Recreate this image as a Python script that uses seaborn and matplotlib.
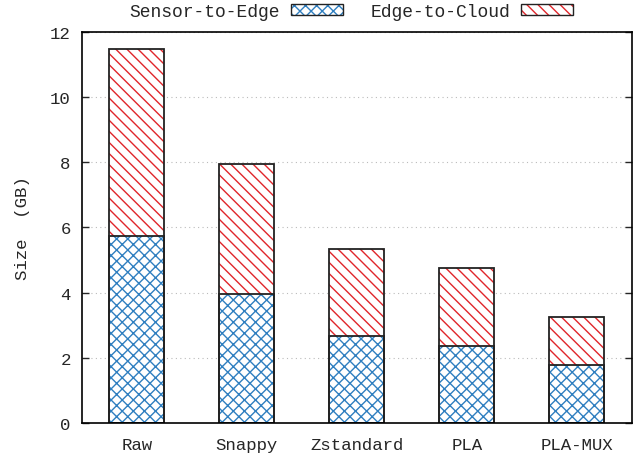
import matplotlib
matplotlib.use("Agg")
import matplotlib.pyplot as plt
import matplotlib.patches as mpatches
from matplotlib.legend_handler import HandlerTuple
import seaborn as sns
import pandas as pd

methods = ["Raw", "Snappy", "Zstandard", "PLA", "PLA-MUX"]
sensor_to_edge = [5.74, 3.96, 2.67, 2.37, 1.78]
edge_to_cloud = [5.72, 3.99, 2.68, 2.39, 1.47]
y_ticks = [0, 2, 4, 6, 8, 10, 12]

BLUE = "#2f7fc0"
RED = "#e0262b"
EDGE = "#222222"
HATCH_EDGE = "xxx"
HATCH_CLOUD = "\\\\\\"

sns.set_theme(style="white")
plt.rcParams["font.family"] = ["Liberation Mono", "DejaVu Sans Mono"]
plt.rcParams["hatch.linewidth"] = 1.0

df = pd.DataFrame({
    "method": methods,
    "sensor": sensor_to_edge,
    "total": [s + c for s, c in zip(sensor_to_edge, edge_to_cloud)],
})

fig = plt.figure(figsize=(6.39, 4.56), dpi=100)
ax = fig.add_axes([0.128, 0.070, 0.861, 0.858])

# stacked bars: full height (cloud) first, then the edge segment over it
sns.barplot(data=df, x="method", y="total", ax=ax, color="white",
            edgecolor=RED, hatch=HATCH_CLOUD, linewidth=0, width=0.5)
sns.barplot(data=df, x="method", y="sensor", ax=ax, color="white",
            edgecolor=BLUE, hatch=HATCH_EDGE, linewidth=0, width=0.5)
# outlines
sns.barplot(data=df, x="method", y="total", ax=ax, fill=False,
            edgecolor=EDGE, linewidth=1.3, width=0.5)
sns.barplot(data=df, x="method", y="sensor", ax=ax, fill=False,
            edgecolor=EDGE, linewidth=1.3, width=0.5)

ax.set_xlim(-0.5, len(methods) - 0.5)
ax.set_ylim(0, 12)
ax.set_yticks(y_ticks)
ax.set_xlabel("")
ax.set_ylabel("Size  (GB)", fontsize=12.5, labelpad=14)
ax.yaxis.grid(True, linestyle=(0, (1, 3)), color="#bbbbbb", linewidth=0.8)
ax.set_axisbelow(True)
for sp in ax.spines.values():
    sp.set_visible(True)
    sp.set_color("black")
    sp.set_linewidth(1.2)
ax.tick_params(axis="y", direction="in", length=5, width=1, right=True,
               left=True, labelsize=12.5, pad=8)
ax.tick_params(axis="x", length=0, labelsize=12.5, pad=10)


def legend_key(color, hatch):
    fill = mpatches.Patch(facecolor="white", edgecolor=color, hatch=hatch,
                          linewidth=0)
    frame = mpatches.Patch(fill=False, edgecolor=EDGE, linewidth=1.0)
    return (fill, frame)


handles = [legend_key(BLUE, HATCH_EDGE), legend_key(RED, HATCH_CLOUD)]
labels = ["Sensor-to-Edge", "Edge-to-Cloud"]
fig.legend(handles, labels, loc="center", bbox_to_anchor=(0.55, 0.972),
           ncol=2, frameon=False, markerfirst=False, fontsize=13,
           handlelength=2.9, handleheight=0.55, columnspacing=1.5,
           handletextpad=0.6,
           handler_map={tuple: HandlerTuple(ndivide=1, pad=0)})

fig.savefig("out.png", dpi=100)
